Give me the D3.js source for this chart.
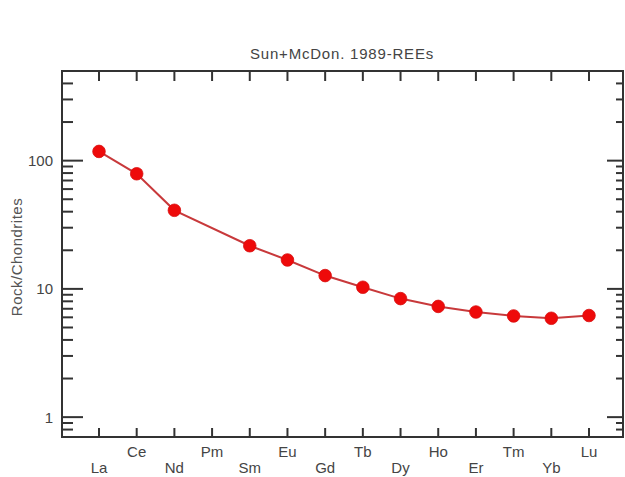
<!DOCTYPE html>
<html>
<head>
<meta charset="utf-8">
<script src="https://cdn.jsdelivr.net/npm/d3@7"></script>
<style>
  html, body { margin: 0; padding: 0; background: #fff; }
  svg { display: block; font-family: "Liberation Sans", Arial, sans-serif; }
</style>
</head>
<body>
<svg id="chart" width="625" height="477"></svg>
<script>
// REE elements on the x axis (Pr not plotted in this diagram)
const elements = ["La", "Ce", "Nd", "Pm", "Sm", "Eu", "Gd", "Tb", "Dy", "Ho", "Er", "Tm", "Yb", "Lu"];
// Chondrite-normalised values (Pm has no measurement)
const values = [118, 79, 41, null, 21.7, 16.8, 12.7, 10.3, 8.4, 7.3, 6.6, 6.15, 5.9, 6.2];
const majorTicks = [1, 10, 100];
const minorTicks = [0.8, 0.9, 2, 3, 4, 5, 6, 7, 8, 9, 20, 30, 40, 50, 60, 70, 80, 90, 200, 300, 400];
const titleText = "Sun+McDon. 1989-REEs";
const yLabelText = "Rock/Chondrites";

const svg = d3.select("#chart");
const frame = { left: 62, right: 623, top: 71, bottom: 437 };
const axisColor = "#333";
const textColor = "#444";
const fontSize = 15;

const x = d3.scalePoint()
  .domain(elements)
  .range([99, 589]);

const y = d3.scaleLog()
  .domain([0.7, 500])
  .range([frame.bottom, frame.top]);

// frame
svg.append("rect")
  .attr("x", frame.left).attr("y", frame.top)
  .attr("width", frame.right - frame.left)
  .attr("height", frame.bottom - frame.top)
  .attr("fill", "none")
  .attr("stroke", axisColor)
  .attr("stroke-width", 2);

// x ticks (top and bottom, inward) and alternating labels
const xt = svg.append("g");
elements.forEach((el, i) => {
  const px = x(el);
  xt.append("line")
    .attr("x1", px).attr("x2", px)
    .attr("y1", frame.bottom).attr("y2", frame.bottom - 9)
    .attr("stroke", axisColor).attr("stroke-width", 2);
  xt.append("line")
    .attr("x1", px).attr("x2", px)
    .attr("y1", frame.top).attr("y2", frame.top + 10)
    .attr("stroke", axisColor).attr("stroke-width", 2);
  xt.append("text")
    .attr("x", px)
    .attr("y", i % 2 === 0 ? 473 : 457)
    .attr("text-anchor", "middle")
    .attr("font-size", fontSize)
    .attr("fill", textColor)
    .text(el);
});

// y ticks: left and right, inward
const yt = svg.append("g");
majorTicks.forEach(v => {
  const py = y(v);
  yt.append("line")
    .attr("x1", frame.left).attr("x2", frame.left + 21)
    .attr("y1", py).attr("y2", py)
    .attr("stroke", axisColor).attr("stroke-width", 2);
  yt.append("line")
    .attr("x1", frame.right).attr("x2", frame.right - 16)
    .attr("y1", py).attr("y2", py)
    .attr("stroke", axisColor).attr("stroke-width", 2);
  yt.append("text")
    .attr("x", 53)
    .attr("y", py + 5.5)
    .attr("text-anchor", "end")
    .attr("font-size", fontSize)
    .attr("fill", textColor)
    .text(v);
});
minorTicks.forEach(v => {
  const py = y(v);
  yt.append("line")
    .attr("x1", frame.left).attr("x2", frame.left + 11)
    .attr("y1", py).attr("y2", py)
    .attr("stroke", axisColor).attr("stroke-width", 2);
  yt.append("line")
    .attr("x1", frame.right).attr("x2", frame.right - 7)
    .attr("y1", py).attr("y2", py)
    .attr("stroke", axisColor).attr("stroke-width", 2);
});

// title and y label
svg.append("text")
  .attr("x", 342).attr("y", 59)
  .attr("text-anchor", "middle")
  .attr("font-size", fontSize)
  .attr("letter-spacing", 0.8)
  .attr("fill", textColor)
  .text(titleText);

svg.append("text")
  .attr("transform", `translate(22,257) rotate(-90)`)
  .attr("text-anchor", "middle")
  .attr("font-size", fontSize)
  .attr("letter-spacing", 0.5)
  .attr("fill", "#555")
  .text(yLabelText);

// pattern line and points
const pts = elements.map((el, i) => ({ el, v: values[i] })).filter(d => d.v != null);

const line = d3.line()
  .x(d => x(d.el))
  .y(d => y(d.v));

svg.append("path")
  .datum(pts)
  .attr("d", line)
  .attr("fill", "none")
  .attr("stroke", "#c8393b")
  .attr("stroke-width", 2);

svg.append("g")
  .selectAll("circle")
  .data(pts)
  .join("circle")
  .attr("cx", d => x(d.el))
  .attr("cy", d => y(d.v))
  .attr("r", 6.3)
  .attr("fill", "#ee0a0a")
  .attr("stroke", "#d81010")
  .attr("stroke-width", 0.8);
</script>
</body>
</html>
